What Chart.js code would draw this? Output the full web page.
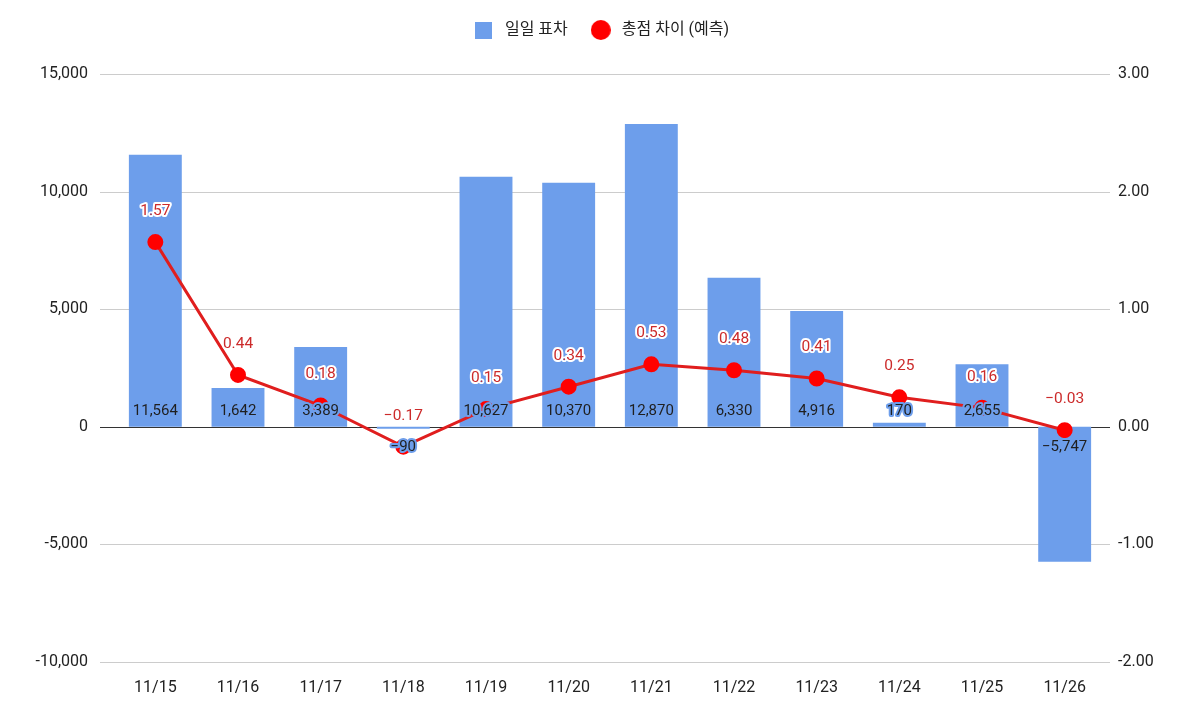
<!DOCTYPE html>
<html><head><meta charset="utf-8">
<script src="https://cdn.jsdelivr.net/npm/chart.js@4/dist/chart.umd.min.js"></script>
<style>html,body{margin:0;padding:0;background:#fff}#wrap{width:1200px;height:715px}</style>
</head><body><div id="wrap"><canvas id="c" width="1200" height="715"></canvas></div>
<script>
const categories = ['11/15','11/16','11/17','11/18','11/19','11/20','11/21','11/22','11/23','11/24','11/25','11/26'];
const dailyDiff = [11564, 1642, 3389, -90, 10627, 10370, 12870, 6330, 4916, 170, 2655, -5747];
const scoreDiff = [1.57, 0.44, 0.18, -0.17, 0.15, 0.34, 0.53, 0.48, 0.41, 0.25, 0.16, -0.03];
const barLabel = '일일 표차';
const lineLabel = '총점 차이 (예측)';

const FONT = "Roboto, 'Noto Sans CJK KR', sans-serif";
const BAR_COLOR = '#6d9eeb';
const POINT_COLOR = '#ff0000';

function makeIcon(kind) {
  const c = document.createElement('canvas');
  const s = kind === 'rect' ? 17 : 20;
  c.width = s; c.height = s;
  const g = c.getContext('2d');
  if (kind === 'rect') { g.fillStyle = BAR_COLOR; g.fillRect(0, 0, s, s); }
  else { g.fillStyle = POINT_COLOR; g.beginPath(); g.arc(s / 2, s / 2, s / 2, 0, Math.PI * 2); g.fill(); }
  return c;
}
const icons = [makeIcon('rect'), makeIcon('circle')];

const legendSpace = {
  id: 'legendSpace',
  beforeInit(chart) {
    const origFit = chart.legend.fit;
    chart.legend.fit = function () { origFit.bind(chart.legend)(); this.height += 26; };
  }
};

const gridPlugin = {
  id: 'grid',
  beforeDatasetsDraw(chart) {
    const ctx = chart.ctx, y = chart.scales.y;
    ctx.save();
    y.ticks.forEach(t => {
      const py = Math.round(y.getPixelForValue(t.value)) + 0.5;
      ctx.strokeStyle = t.value === 0 ? '#333333' : '#cccccc';
      ctx.lineWidth = 1;
      ctx.beginPath(); ctx.moveTo(100, py); ctx.lineTo(1110, py); ctx.stroke();
    });
    ctx.restore();
  }
};

function fmtNum(v, dec) {
  const s = Math.abs(v).toLocaleString('en-US', {minimumFractionDigits: dec, maximumFractionDigits: dec});
  return (v < 0 ? '\u2212' : '') + s;
}

const labelPlugin = {
  id: 'labels',
  afterDatasetsDraw(chart) {
    const ctx = chart.ctx;
    const y = chart.scales.y;
    const zero = y.getPixelForValue(0);
    ctx.save();
    ctx.textAlign = 'center';
    ctx.textBaseline = 'middle';
    ctx.lineJoin = 'round';
    ctx.font = '15px ' + FONT;
    const barMeta = chart.getDatasetMeta(0);
    barMeta.data.forEach((el, i) => {
      const v = dailyDiff[i];
      const py = v >= 0 ? zero - 15 : zero + 21;
      const txt = fmtNum(v, 0);
      ctx.strokeStyle = BAR_COLOR; ctx.lineWidth = 4;
      ctx.strokeText(txt, el.x, py);
      ctx.fillStyle = '#1f1f1f';
      ctx.fillText(txt, el.x, py);
    });
    ctx.font = '15.5px ' + FONT;
    const lineMeta = chart.getDatasetMeta(1);
    lineMeta.data.forEach((el, i) => {
      const txt = fmtNum(scoreDiff[i], 2);
      const py = el.y - 31;
      ctx.strokeStyle = '#ffffff'; ctx.lineWidth = 4;
      ctx.strokeText(txt, el.x, py);
      ctx.fillStyle = '#cc2b2b';
      ctx.fillText(txt, el.x, py);
    });
    ctx.restore();
  }
};

new Chart(document.getElementById('c'), {
  data: {
    labels: categories,
    datasets: [
      { type: 'bar', label: barLabel, data: dailyDiff, backgroundColor: BAR_COLOR, yAxisID: 'y',
        barPercentage: 0.64, categoryPercentage: 1, order: 2 },
      { type: 'line', label: lineLabel, data: scoreDiff, yAxisID: 'y1', borderColor: '#e01e1e', borderWidth: 3,
        pointBackgroundColor: POINT_COLOR, pointBorderColor: POINT_COLOR, pointRadius: 6.5, pointStyle: 'circle',
        tension: 0, order: 1 }
    ]
  },
  options: {
    responsive: false, animation: false,
    layout: { padding: { top: 2, bottom: 0, left: 0, right: 0 } },
    plugins: {
      legend: {
        position: 'top',
        labels: {
          usePointStyle: true, pointStyleWidth: 26, boxWidth: 17, boxHeight: 17, padding: 20, color: '#222',
          font: { family: FONT, size: 16 },
          generateLabels(chart) {
            return chart.data.datasets.map((ds, i) => ({
              text: ds.label, datasetIndex: i, pointStyle: icons[i], fillStyle: i === 0 ? BAR_COLOR : POINT_COLOR,
              strokeStyle: 'transparent', lineWidth: 0, hidden: false, fontColor: '#222'
            }));
          }
        }
      },
      tooltip: { enabled: false }
    },
    scales: {
      x: {
        grid: { display: false, drawTicks: false },
        border: { display: false },
        ticks: { color: '#222', font: { family: FONT, size: 16 }, padding: 17 }
      },
      y: {
        position: 'left', min: -10000, max: 15000,
        afterFit(s) { s.width = 114; },
        grid: { display: false, drawTicks: false },
        border: { display: false },
        ticks: { stepSize: 5000, color: '#222', font: { family: FONT, size: 16 }, padding: 26,
          callback: v => v.toLocaleString('en-US') }
      },
      y1: {
        position: 'right', min: -2, max: 3,
        afterFit(s) { s.width = 94; },
        grid: { display: false, drawTicks: false },
        border: { display: false },
        ticks: { stepSize: 1, color: '#222', font: { family: FONT, size: 16 }, padding: 12,
          callback: v => v.toFixed(2) }
      }
    }
  },
  plugins: [legendSpace, gridPlugin, labelPlugin]
});
</script></body></html>
